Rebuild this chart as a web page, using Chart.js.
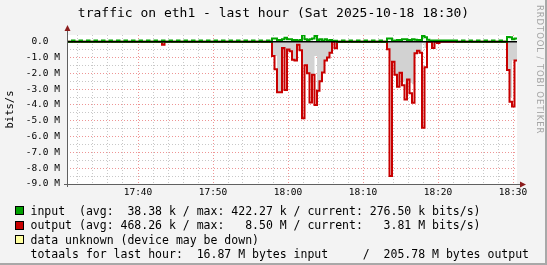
<!DOCTYPE html>
<html>
<head>
<meta charset="utf-8">
<script src="https://cdn.jsdelivr.net/npm/chart.js@4.4.0/dist/chart.umd.min.js"></script>
<style>
  body { margin: 0; background: #fff; }
  #frame {
    position: relative; width: 547px; height: 265px; box-sizing: border-box;
    background: #f3f3f3; border-right: 2px solid #a8a8a8; border-bottom: 2px solid #a8a8a8;
    overflow: hidden; font-family: 'DejaVu Sans Mono', monospace; color: #000;
  }
  canvas { position: absolute; left: 0; top: 0; }
  #title { position: absolute; left: 0; width: 547px; top: 4px; text-align: center; font-size: 13px; line-height: 18px; white-space: pre; }
  #brand {
    position: absolute; left: 535px; top: 5px; writing-mode: vertical-rl;
    font-family: 'DejaVu Sans', sans-serif; font-size: 8.5px; color: #a4a4a4; letter-spacing: 0.9px; white-space: pre;
  }
  .leg { position: absolute; left: 30.5px; font-size: 11.5px; line-height: 14.5px; white-space: pre; }
  .sw { position: absolute; left: -15.5px; top: 2.5px; width: 7px; height: 7px; border: 1px solid #000; }
</style>
</head>
<body>
<div id="frame">
  <canvas id="c" width="547" height="265"></canvas>
  <div id="title">traffic on eth1 - last hour (Sat 2025-10-18 18:30)</div>
  <div id="brand">RRDTOOL / TOBI OETIKER</div>
  <div class="leg" style="top:203.5px"><span class="sw" style="background:#00a000"></span>input  (avg:  38.38 k / max: 422.27 k / current: 276.50 k bits/s)</div>
  <div class="leg" style="top:218px"><span class="sw" style="background:#c80000"></span>output (avg: 468.26 k / max:   8.50 M / current:   3.81 M bits/s)</div>
  <div class="leg" style="top:232.5px"><span class="sw" style="background:#ffffa0"></span>data unknown (device may be down)</div>
  <div class="leg" style="top:247px">totaals for last hour:  16.87 M bytes input     /  205.78 M bytes output</div>
</div>
<script>
// time axis: minutes past 17:00, one sample every 20 s
const startMinute = 30 + 32 / 60;
const sampleMinutes = 1 / 3;

const majorMinutes = [40, 50, 60, 70, 80, 90];
const timeLabels = ['17:40', '17:50', '18:00', '18:10', '18:20', '18:30'];

const yTickValues = [0, -1, -2, -3, -4, -5, -6, -7, -8, -9];
const yTickLabels = ['0.0  ', '-1.0 M', '-2.0 M', '-3.0 M', '-4.0 M', '-5.0 M', '-6.0 M', '-7.0 M', '-8.0 M', '-9.0 M'];

// M bits/s
const input = [
  0, 0, 0.08, 0, 0, 0.08, 0, 0, 0.08, 0, 0, 0.08,
  0, 0, 0.08, 0, 0, 0.08, 0, 0, 0.08, 0, 0, 0.08,
  0, 0, 0.08, 0, 0, 0.08, 0, 0, 0.08, 0, 0, 0.08,
  0, 0, 0.08, 0, 0, 0.08, 0, 0, 0.08, 0, 0, 0.08,
  0, 0, 0.08, 0, 0, 0.08, 0, 0, 0.08, 0, 0, 0.08,
  0, 0, 0.08, 0, 0, 0.08, 0, 0, 0.08, 0, 0, 0.08,
  0, 0, 0.08, 0, 0, 0.08, 0, 0, 0.08, 0, 0.2, 0.2,
  0.1, 0.1, 0.15, 0.25, 0.15, 0.15, 0.1, 0.1, 0.05, 0.1, 0.42, 0.15,
  0.1, 0.15, 0.2, 0.35, 0.1, 0.15, 0.05, 0.15, 0.05, 0.1, 0.05, 0.05,
  0, 0, 0.08, 0, 0, 0.08, 0, 0, 0.08, 0, 0, 0.08,
  0, 0, 0.08, 0, 0, 0.08, 0, 0, 0.2, 0.2, 0.08, 0.08,
  0.1, 0.1, 0.15, 0.15, 0.1, 0.1, 0.15, 0.12, 0.1, 0.1, 0.36, 0.28,
  0.12, 0.05, 0.08, 0.08, 0.08, 0.08, 0.08, 0.08, 0.08, 0.08, 0.08, 0.08,
  0, 0, 0.08, 0, 0, 0.08, 0, 0, 0.08, 0, 0, 0.08,
  0, 0, 0.08, 0, 0, 0.08, 0, 0, 0.3, 0.28, 0.15, 0.2
];

const outputAvg = [
  0, 0, 0, 0, 0, 0, 0, 0, 0, 0, 0, 0,
  0, 0, 0, 0, 0, 0, 0, 0, 0, 0, 0, 0,
  0, 0, 0, 0, 0, 0, 0, 0, 0, 0, 0, 0,
  0, 0, -0.2, 0, 0, 0, 0, 0, 0, 0, 0, 0,
  0, 0, 0, 0, 0, 0, 0, 0, 0, 0, 0, 0,
  0, 0, 0, 0, 0, 0, 0, 0, 0, 0, 0, 0,
  0, 0, 0, 0, 0, 0, 0, 0, 0, 0, -0.9, -0.9,
  -3.2, -3.2, -0.4, -1.0, -0.5, -0.6, -1.15, -1.15, -0.2, -0.55, -1.4, -1.5,
  -2.0, -2.6, -2.1, -0.9, -3.1, -2.5, -1.95, -1.2, -1.0, -0.7, 0, -0.42,
  0, 0, 0, 0, 0, 0, 0, 0, 0, 0, 0, 0,
  0, 0, 0, 0, 0, 0, 0, 0, -0.48, -1.27, -1.27, -2.1,
  -2.85, -1.96, -2.5, -3.06, -2.4, -2.6, -2.7, -0.74, -0.57, -0.7, -0.1, -0.4,
  0, 0, -0.4, 0, -0.08, 0, 0, 0, 0, 0, 0, 0,
  0, 0, 0, 0, 0, 0, 0, 0, 0, 0, 0, 0,
  0, 0, 0, 0, 0, 0, 0, 0, -1.8, -3.5, -1.2, -1.2
];

const outputMax = [
  0, 0, 0, 0, 0, 0, 0, 0, 0, 0, 0, 0,
  0, 0, 0, 0, 0, 0, 0, 0, 0, 0, 0, 0,
  0, 0, 0, 0, 0, 0, 0, 0, 0, 0, 0, 0,
  0, 0, -0.2, 0, 0, 0, 0, 0, 0, 0, 0, 0,
  0, 0, 0, 0, 0, 0, 0, 0, 0, 0, 0, 0,
  0, 0, 0, 0, 0, 0, 0, 0, 0, 0, 0, 0,
  0, 0, 0, 0, 0, 0, 0, 0, 0, 0, -0.9, -1.75,
  -3.2, -3.2, -0.4, -3.05, -0.5, -0.6, -1.15, -1.2, -0.2, -0.55, -4.85, -1.5,
  -2.0, -3.85, -2.1, -4.0, -3.1, -2.5, -1.95, -1.2, -1.0, -0.7, 0, -0.42,
  0, 0, 0, 0, 0, 0, 0, 0, 0, 0, 0, 0,
  0, 0, 0, 0, 0, 0, 0, 0, -0.48, -8.5, -1.27, -2.1,
  -2.85, -1.96, -2.75, -3.65, -2.4, -3.27, -3.86, -0.74, -0.57, -0.7, -5.44, -1.62,
  0, 0, -0.4, 0, -0.08, 0, 0, 0, 0, 0, 0, 0,
  0, 0, 0, 0, 0, 0, 0, 0, 0, 0, 0, 0,
  0, 0, 0, 0, 0, 0, 0, 0, -1.8, -3.8, -4.1, -1.2
];

// each value holds from its own sample time until the next one
function toPoints(values) {
  const pts = values.map((v, i) => ({ x: startMinute + i * sampleMinutes, y: v }));
  pts.push({ x: startMinute + values.length * sampleMinutes, y: values[values.length - 1] });
  return pts;
}

const redGrid = 'rgba(235,130,130,0.85)';
const grayGrid = '#c8c8c8';

const rrdDecor = {
  id: 'rrdDecor',
  beforeDraw(chart) {
    const { ctx, chartArea: a } = chart;
    ctx.save();
    ctx.fillStyle = '#fff';
    ctx.fillRect(a.left, a.top, a.right - a.left, a.bottom - a.top);
    ctx.restore();
  },
  afterDatasetsDraw(chart) {
    const { ctx, chartArea: a, scales } = chart;
    const y0 = scales.y.getPixelForValue(0);
    ctx.save();
    // zero line
    ctx.strokeStyle = '#000';
    ctx.lineWidth = 1.5;
    ctx.beginPath();
    ctx.moveTo(a.left, y0);
    ctx.lineTo(a.right, y0);
    ctx.stroke();
    // axes
    ctx.strokeStyle = '#606060';
    ctx.lineWidth = 1;
    ctx.beginPath();
    ctx.moveTo(a.left + 0.5, a.bottom + 3);
    ctx.lineTo(a.left + 0.5, a.top - 6);
    ctx.moveTo(a.left - 3, a.bottom + 0.5);
    ctx.lineTo(a.right + 4, a.bottom + 0.5);
    ctx.stroke();
    // arrows
    ctx.fillStyle = '#8c1c1c';
    ctx.beginPath();
    ctx.moveTo(a.left + 0.5, a.top - 10);
    ctx.lineTo(a.left - 2.5, a.top - 4);
    ctx.lineTo(a.left + 3.5, a.top - 4);
    ctx.closePath();
    ctx.fill();
    ctx.beginPath();
    ctx.moveTo(a.right + 9, a.bottom + 0.5);
    ctx.lineTo(a.right + 3, a.bottom - 2.5);
    ctx.lineTo(a.right + 3, a.bottom + 3.5);
    ctx.closePath();
    ctx.fill();
    ctx.restore();
  }
};

const tickFont = { family: 'DejaVu Sans Mono', size: 9.5 };

new Chart(document.getElementById('c'), {
  type: 'line',
  data: {
    datasets: [
      {
        label: 'input',
        data: toPoints(input),
        borderColor: '#00a400',
        borderWidth: 2,
        stepped: 'before',
        pointRadius: 0,
        fill: false
      },
      {
        label: 'output max',
        data: toPoints(outputMax),
        borderColor: '#c80000',
        borderWidth: 2,
        stepped: 'before',
        pointRadius: 0,
        fill: false
      },
      {
        label: 'output',
        data: toPoints(outputAvg),
        borderWidth: 0,
        borderColor: 'rgba(0,0,0,0)',
        backgroundColor: '#d2d2d2',
        stepped: 'before',
        pointRadius: 0,
        fill: 'origin'
      }
    ]
  },
  options: {
    responsive: false,
    animation: false,
    layout: { padding: { left: 0, right: 30, top: 35, bottom: 0 } },
    plugins: { legend: { display: false }, tooltip: { enabled: false } },
    scales: {
      x: {
        type: 'linear',
        min: startMinute,
        max: startMinute + 60,
        afterBuildTicks: (scale) => {
          const t = [];
          for (let m = 32; m <= 90; m += 2) t.push({ value: m });
          scale.ticks = t;
        },
        afterFit: (scale) => { scale.height = 81; },
        grid: {
          color: (c) => (c.tick && c.tick.value % 10 === 0 ? redGrid : grayGrid),
          drawTicks: false,
          lineWidth: 1
        },
        border: { display: false, dash: [1, 2] },
        ticks: {
          autoSkip: false,
          maxRotation: 0,
          padding: 3,
          color: '#000',
          font: tickFont,
          callback: (v) => {
            const k = majorMinutes.indexOf(v);
            return k >= 0 ? timeLabels[k] : '';
          }
        }
      },
      y: {
        type: 'linear',
        min: -9,
        max: 0.42,
        afterBuildTicks: (scale) => {
          const t = [];
          for (let k = 0; k <= 18; k++) t.push({ value: -9 + k * 0.5 });
          scale.ticks = t;
        },
        afterFit: (scale) => { scale.width = 67; },
        grid: {
          color: (c) => (c.tick && Number.isInteger(c.tick.value) ? redGrid : grayGrid),
          drawTicks: false,
          lineWidth: 1
        },
        border: { display: false, dash: [1, 2] },
        title: {
          display: true,
          text: 'bits/s',
          color: '#000',
          font: { family: 'DejaVu Sans Mono', size: 10.5 },
          padding: { top: 4, bottom: 0 }
        },
        ticks: {
          autoSkip: false,
          padding: 7,
          color: '#000',
          font: tickFont,
          callback: (v) => {
            const k = yTickValues.indexOf(v);
            return k >= 0 ? yTickLabels[k] : '';
          }
        }
      }
    }
  },
  plugins: [rrdDecor]
});
</script>
</body>
</html>
